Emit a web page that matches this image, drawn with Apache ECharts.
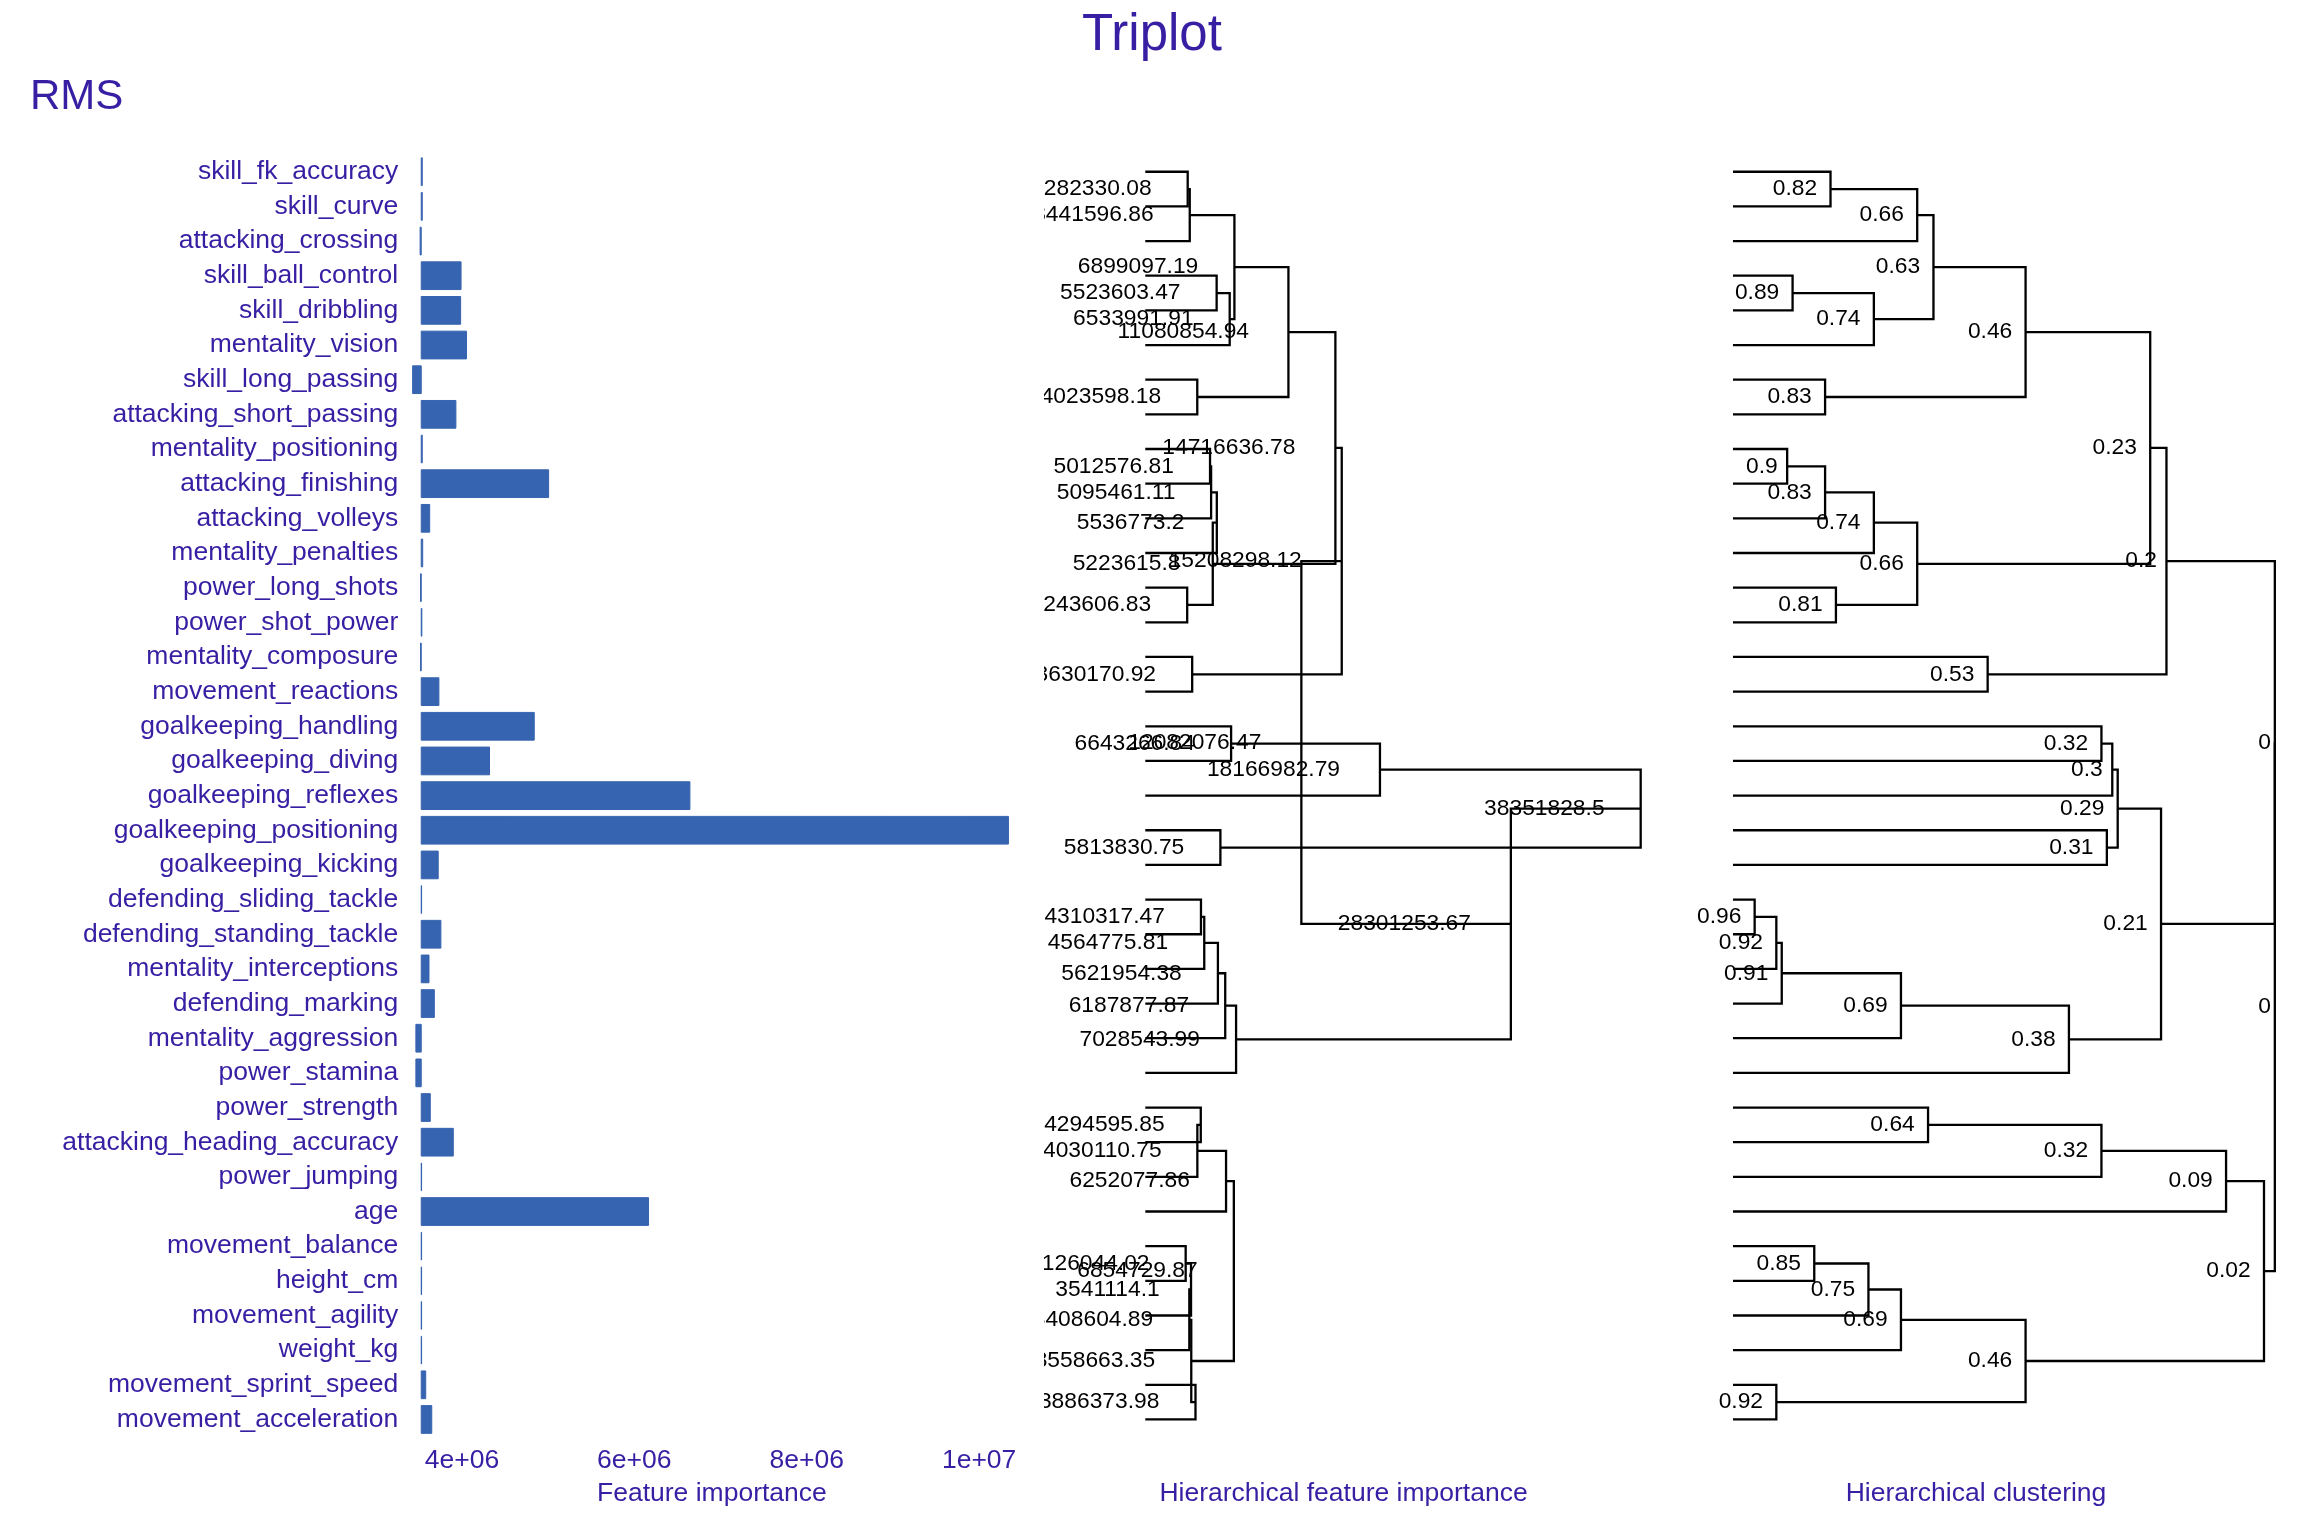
<!DOCTYPE html>
<html>
<head>
<meta charset="utf-8">
<script src="https://cdn.jsdelivr.net/npm/echarts@6/dist/echarts.min.js"></script>
<style>html,body{margin:0;padding:0;background:#fff;}#c{width:2304px;height:1536px;}</style>
</head>
<body>
<div id="c"></div>
<script>
// ---------- data ----------
const features = ['skill_fk_accuracy','skill_curve','attacking_crossing','skill_ball_control','skill_dribbling','mentality_vision','skill_long_passing','attacking_short_passing','mentality_positioning','attacking_finishing','attacking_volleys','mentality_penalties','power_long_shots','power_shot_power','mentality_composure','movement_reactions','goalkeeping_handling','goalkeeping_diving','goalkeeping_reflexes','goalkeeping_positioning','goalkeeping_kicking','defending_sliding_tackle','defending_standing_tackle','mentality_interceptions','defending_marking','mentality_aggression','power_stamina','power_strength','attacking_heading_accuracy','power_jumping','age','movement_balance','height_cm','movement_agility','weight_kg','movement_sprint_speed','movement_acceleration'];
const importance = [3540000,3540000,3515000,3990000,3985000,4053000,3428000,3930000,3540000,5006000,3626000,3545000,3520000,3535000,3520000,3733000,4839000,4320000,6645000,10340000,3725000,3532000,3756000,3618000,3680000,3466000,3466000,3633000,3900000,3532000,6165000,3532000,3532000,3532000,3532000,3580000,3650000];
const fullModelLoss = 3528000;
const tickValues = [4000000, 6000000, 8000000, 10000000];
const tickLabels = ['4e+06', '6e+06', '8e+06', '1e+07'];
// merge matrix (R hclust style: negative = leaf row, positive = earlier merge step)
const mergeLeft  = [-1, 1, -4, 3, 2, -7, 5, -9, 8, 9, -13, 10, 7, -15, 13, -17, 16, -20, 17, -22, 20, 21, 22, 23, 19, 15, -28, 27, 28, -32, 30, 31, -36, 32, 29, 26];
const mergeRight = [-2, -3, -5, -6, 4, -8, 6, -10, -11, -12, -14, 11, 12, -16, 14, -18, -19, -21, 18, -23, -24, -25, -26, -27, 24, 25, -29, -30, -31, -33, -34, -35, -37, 33, 34, 35];
const clusterSimilarity = [0.82, 0.66, 0.89, 0.74, 0.63, 0.83, 0.46, 0.9, 0.83, 0.74, 0.81, 0.66, 0.23, 0.53, 0.2, 0.32, 0.3, 0.31, 0.29, 0.96, 0.92, 0.91, 0.69, 0.38, 0.21, 0, 0.64, 0.32, 0.09, 0.85, 0.75, 0.69, 0.92, 0.46, 0.02, 0];
const groupImportance = [3282330.08, 3441596.86, 5523603.47, 6533991.91, 6899097.19, 4023598.18, 11080854.94, 5012576.81, 5095461.11, 5536773.2, 3243606.83, 5223615.8, 14716636.78, 3630170.92, 15208298.12, 6643266.84, 18166982.79, 5813830.75, 38351828.5, 4310317.47, 4564775.81, 5621954.38, 6187877.87, 7028543.99, 28301253.67, 12082076.47, 4294595.85, 4030110.75, 6252077.86, 3126044.02, 3541114.1, 3408604.89, 3886373.98, 3558663.35, 6854729.87, null];

// ---------- helpers ----------
const TXT = '#371ea3';
const FONT = 'Liberation Sans, Arial, sans-serif';
const NUM_SIZE = 22.8;
const mctx = document.createElement('canvas').getContext('2d');
function textWidth(s, size) { mctx.font = size + 'px "Liberation Sans"'; return mctx.measureText(s).width; }

const nodeY = [];
function yOf(id) { return id < 0 ? (-id - 1) : nodeY[id - 1]; }
for (let k = 0; k < mergeLeft.length; k++) nodeY[k] = (yOf(mergeLeft[k]) + yOf(mergeRight[k])) / 2;

function treeData(heights, leafX) {
  const xOf = id => id < 0 ? leafX : heights[id - 1];
  const lines = [], labels = [];
  for (let k = 0; k < mergeLeft.length; k++) {
    if (heights[k] === null) continue;
    const a = mergeLeft[k], b = mergeRight[k];
    lines.push([heights[k], nodeY[k], xOf(a), yOf(a), xOf(b), yOf(b)]);
    labels.push([heights[k], nodeY[k], k]);
  }
  return { lines, labels };
}
const midTree = treeData(groupImportance, 0);
const cluTree = treeData(clusterSimilarity, 1);

function renderLines(params, api) {
  const p = api.coord([api.value(0), api.value(1)]);
  const a = api.coord([api.value(2), api.value(3)]);
  const b = api.coord([api.value(4), api.value(5)]);
  return {
    type: 'polyline',
    shape: { points: [[a[0], a[1]], [p[0], a[1]], [p[0], b[1]], [b[0], b[1]]] },
    style: { stroke: '#000', lineWidth: 2.3, fill: 'none' }
  };
}
function makeLabelRenderer(values) {
  return function (params, api) {
    const p = api.coord([api.value(0), api.value(1)]);
    const txt = String(values[api.value(2)]);
    const w = textWidth(txt, NUM_SIZE);
    return {
      type: 'text',
      x: p[0] - 0.3 * w,
      y: p[1],
      style: { text: txt, fill: '#000', fontSize: NUM_SIZE, fontFamily: FONT, textAlign: 'right', textVerticalAlign: 'middle' }
    };
  };
}

const TOP = 154.4, H = 1282.4;
const chart = echarts.init(document.getElementById('c'), null, { renderer: 'canvas' });
const hiddenY = gi => ({ type: 'value', gridIndex: gi, min: -0.5, max: features.length - 0.5, inverse: true, show: false });
const nameStyle = { color: TXT, fontSize: 26.5, fontFamily: FONT };

chart.setOption({
  animation: false,
  backgroundColor: '#fff',
  title: [
    { text: 'Triplot', left: 'center', top: 5, textStyle: { color: TXT, fontSize: 51, fontWeight: 'normal', fontFamily: FONT } },
    { text: 'RMS', left: 25, top: 71, textStyle: { color: TXT, fontSize: 42, fontWeight: 'normal', fontFamily: FONT } }
  ],
  grid: [
    { left: 410.2, top: TOP, width: 603.4, height: H },
    { left: 1044.5, top: TOP, width: 598.1, height: H },
    { left: 1675, top: TOP, width: 602, height: H }
  ],
  xAxis: [
    { type: 'value', gridIndex: 0, min: 3400000, max: 10400000,
      axisLine: { show: false }, axisTick: { show: false }, splitLine: { show: false },
      axisLabel: { customValues: tickValues, margin: 10, color: TXT, fontSize: 26.5, fontFamily: FONT,
        formatter: v => tickLabels[tickValues.indexOf(v)] },
      name: 'Feature importance', nameLocation: 'middle', nameGap: 43, nameTextStyle: nameStyle },
    { type: 'value', gridIndex: 1, min: -7803000, max: 38500000,
      axisLine: { show: false }, axisTick: { show: false }, splitLine: { show: false }, axisLabel: { show: false },
      name: 'Hierarchical feature importance', nameLocation: 'middle', nameGap: 43, nameTextStyle: nameStyle },
    { type: 'value', gridIndex: 2, min: -0.004, max: 1.107, inverse: true,
      axisLine: { show: false }, axisTick: { show: false }, splitLine: { show: false }, axisLabel: { show: false },
      name: 'Hierarchical clustering', nameLocation: 'middle', nameGap: 43, nameTextStyle: nameStyle }
  ],
  yAxis: [
    { type: 'category', gridIndex: 0, data: features, inverse: true,
      axisLine: { show: false }, axisTick: { show: false }, splitLine: { show: false },
      axisLabel: { interval: 0, margin: 12, color: TXT, fontSize: 26.5, fontFamily: FONT } },
    hiddenY(1),
    hiddenY(2)
  ],
  series: [
    {
      type: 'custom', xAxisIndex: 0, yAxisIndex: 0,
      data: features.map((f, i) => [importance[i], f]),
      encode: { x: 0, y: 1 },
      renderItem: function (params, api) {
        const idx = api.value(1);
        const s = api.coord([fullModelLoss, idx]);
        const e = api.coord([api.value(0), idx]);
        const h = api.size([0, 1])[1] * 0.8;
        return { type: 'rect',
          shape: { x: Math.min(s[0], e[0]), y: s[1] - h / 2, width: Math.abs(e[0] - s[0]), height: h },
          style: { fill: '#3764b0', stroke: '#3764b0', lineWidth: 1 } };
      }
    },
    { type: 'custom', xAxisIndex: 1, yAxisIndex: 1, clip: true, data: midTree.lines,
      encode: { x: [0, 2, 4], y: [1, 3, 5] }, renderItem: renderLines, z: 2 },
    { type: 'custom', xAxisIndex: 1, yAxisIndex: 1, clip: true, data: midTree.labels,
      encode: { x: 0, y: 1 }, renderItem: makeLabelRenderer(groupImportance), z: 3 },
    { type: 'custom', xAxisIndex: 2, yAxisIndex: 2, data: cluTree.lines,
      encode: { x: [0, 2, 4], y: [1, 3, 5] }, renderItem: renderLines, z: 2 },
    { type: 'custom', xAxisIndex: 2, yAxisIndex: 2, data: cluTree.labels,
      encode: { x: 0, y: 1 }, renderItem: makeLabelRenderer(clusterSimilarity), z: 3 }
  ]
});
</script>
</body>
</html>
